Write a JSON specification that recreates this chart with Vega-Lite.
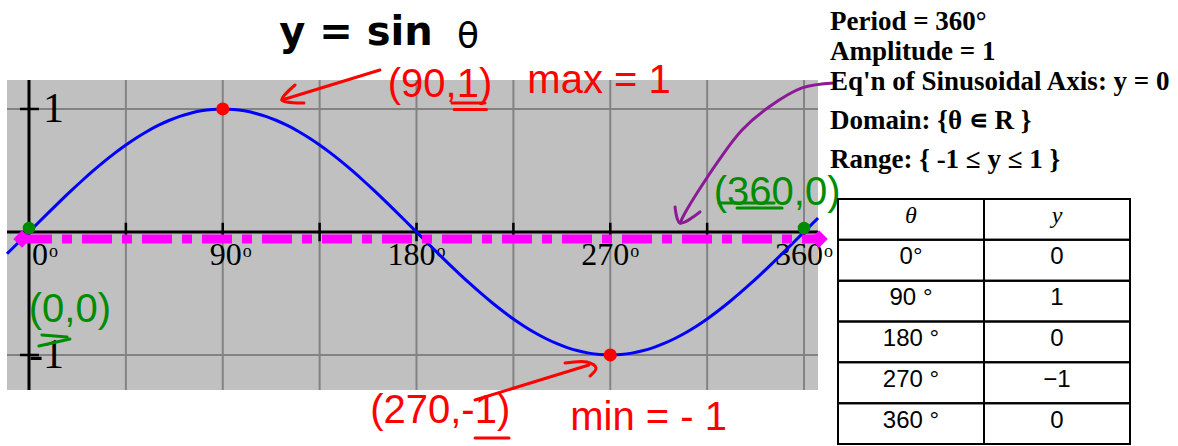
{
  "$schema": "https://vega.github.io/schema/vega-lite/v6.json",
  "padding": 0,
  "spacing": 0,
  "bounds": "flush",
  "background": "white",
  "config": {"view": {"stroke": null}},
  "datasets": {
    "curve": [
      {"deg": -10.22, "v": -0.1774}, {"deg": -5, "v": -0.0872}, {"deg": 0, "v": 0}, {"deg": 5, "v": 0.0872},
      {"deg": 10, "v": 0.1736}, {"deg": 15, "v": 0.2588}, {"deg": 20, "v": 0.342}, {"deg": 25, "v": 0.4226},
      {"deg": 30, "v": 0.5}, {"deg": 35, "v": 0.5736}, {"deg": 40, "v": 0.6428}, {"deg": 45, "v": 0.7071},
      {"deg": 50, "v": 0.766}, {"deg": 55, "v": 0.8192}, {"deg": 60, "v": 0.866}, {"deg": 65, "v": 0.9063},
      {"deg": 70, "v": 0.9397}, {"deg": 75, "v": 0.9659}, {"deg": 80, "v": 0.9848}, {"deg": 85, "v": 0.9962},
      {"deg": 90, "v": 1}, {"deg": 95, "v": 0.9962}, {"deg": 100, "v": 0.9848}, {"deg": 105, "v": 0.9659},
      {"deg": 110, "v": 0.9397}, {"deg": 115, "v": 0.9063}, {"deg": 120, "v": 0.866}, {"deg": 125, "v": 0.8192},
      {"deg": 130, "v": 0.766}, {"deg": 135, "v": 0.7071}, {"deg": 140, "v": 0.6428}, {"deg": 145, "v": 0.5736},
      {"deg": 150, "v": 0.5}, {"deg": 155, "v": 0.4226}, {"deg": 160, "v": 0.342}, {"deg": 165, "v": 0.2588},
      {"deg": 170, "v": 0.1736}, {"deg": 175, "v": 0.0872}, {"deg": 180, "v": 0}, {"deg": 185, "v": -0.0872},
      {"deg": 190, "v": -0.1736}, {"deg": 195, "v": -0.2588}, {"deg": 200, "v": -0.342}, {"deg": 205, "v": -0.4226},
      {"deg": 210, "v": -0.5}, {"deg": 215, "v": -0.5736}, {"deg": 220, "v": -0.6428}, {"deg": 225, "v": -0.7071},
      {"deg": 230, "v": -0.766}, {"deg": 235, "v": -0.8192}, {"deg": 240, "v": -0.866}, {"deg": 245, "v": -0.9063},
      {"deg": 250, "v": -0.9397}, {"deg": 255, "v": -0.9659}, {"deg": 260, "v": -0.9848}, {"deg": 265, "v": -0.9962},
      {"deg": 270, "v": -1}, {"deg": 275, "v": -0.9962}, {"deg": 280, "v": -0.9848}, {"deg": 285, "v": -0.9659},
      {"deg": 290, "v": -0.9397}, {"deg": 295, "v": -0.9063}, {"deg": 300, "v": -0.866}, {"deg": 305, "v": -0.8192},
      {"deg": 310, "v": -0.766}, {"deg": 315, "v": -0.7071}, {"deg": 320, "v": -0.6428}, {"deg": 325, "v": -0.5736},
      {"deg": 330, "v": -0.5}, {"deg": 335, "v": -0.4226}, {"deg": 340, "v": -0.342}, {"deg": 345, "v": -0.2588},
      {"deg": 350, "v": -0.1736}, {"deg": 355, "v": -0.0872}, {"deg": 360, "v": 0}, {"deg": 365, "v": 0.0872},
      {"deg": 366.5, "v": 0.1132}
    ],
    "gridx": [{"deg": 45}, {"deg": 90}, {"deg": 135}, {"deg": 180}, {"deg": 225}, {"deg": 270}, {"deg": 315}, {"deg": 360}],
    "gridy": [{"v": 1}, {"v": -1}],
    "xlabels": [{"deg": 0, "lab": "0"}, {"deg": 90, "lab": "90"}, {"deg": 180, "lab": "180"}, {"deg": 270, "lab": "270"}, {"deg": 360, "lab": "360"}],
    "ylabels": [{"v": 1, "lab": "1"}, {"v": -1, "lab": "-1"}],
    "extrema": [{"deg": 90, "v": 1}, {"deg": 270, "v": -1}],
    "zeros": [{"deg": 0, "v": 0}, {"deg": 360, "v": 0}],
    "axisends": [{"deg": -3.25}, {"deg": 367}],
    "strokes": [
      {"path": "a1", "seq": 1, "deg": 163.0, "v": 1.317, "ink": "red"},
      {"path": "a1", "seq": 2, "deg": 117.5, "v": 1.073, "ink": "red"},
      {"path": "a1h", "seq": 1, "deg": 123.6, "v": 1.195, "ink": "red"},
      {"path": "a1h", "seq": 2, "deg": 117.5, "v": 1.073, "ink": "red"},
      {"path": "a1h", "seq": 3, "deg": 127.7, "v": 1.049, "ink": "red"},
      {"path": "u1", "seq": 1, "deg": 196.5, "v": 1.049, "ink": "red"},
      {"path": "u1", "seq": 2, "deg": 211.8, "v": 1.049, "ink": "red"},
      {"path": "u1b", "seq": 1, "deg": 197.5, "v": 0.995, "ink": "red"},
      {"path": "u1b", "seq": 2, "deg": 212.5, "v": 0.995, "ink": "red"},
      {"path": "a2", "seq": 1, "deg": 207.2, "v": -1.366, "ink": "red"},
      {"path": "a2", "seq": 2, "deg": 260.1, "v": -1.081, "ink": "red"},
      {"path": "a2h", "seq": 1, "deg": 249.0, "v": -1.065, "ink": "red"},
      {"path": "a2h", "seq": 2, "deg": 259.2, "v": -1.057, "ink": "red"},
      {"path": "a2h", "seq": 3, "deg": 263.4, "v": -1.106, "ink": "red"},
      {"path": "a2h", "seq": 4, "deg": 260.6, "v": -1.171, "ink": "red"},
      {"path": "u2", "seq": 1, "deg": 207.2, "v": -1.675, "ink": "red"},
      {"path": "u2", "seq": 2, "deg": 223.0, "v": -1.675, "ink": "red"},
      {"path": "u3", "seq": 1, "deg": 320.5, "v": 0.236, "ink": "green"},
      {"path": "u3", "seq": 2, "deg": 346.1, "v": 0.236, "ink": "green"},
      {"path": "u3b", "seq": 1, "deg": 328.9, "v": 0.195, "ink": "green"},
      {"path": "u3b", "seq": 2, "deg": 349.8, "v": 0.195, "ink": "green"},
      {"path": "u4", "seq": 1, "deg": 6.0, "v": -0.837, "ink": "green"},
      {"path": "u4", "seq": 2, "deg": 17.7, "v": -0.854, "ink": "green"},
      {"path": "u4b", "seq": 1, "deg": 4.6, "v": -0.927, "ink": "green"},
      {"path": "u4b", "seq": 2, "deg": 19.0, "v": -0.87, "ink": "green"},
      {"path": "p1", "seq": 1, "deg": 373.9, "v": 1.211, "ink": "purple"},
      {"path": "p1", "seq": 2, "deg": 359.1, "v": 1.171, "ink": "purple"},
      {"path": "p1", "seq": 3, "deg": 343.7, "v": 1.016, "ink": "purple"},
      {"path": "p1", "seq": 4, "deg": 331.2, "v": 0.829, "ink": "purple"},
      {"path": "p1", "seq": 5, "deg": 320.5, "v": 0.585, "ink": "purple"},
      {"path": "p1", "seq": 6, "deg": 311.2, "v": 0.341, "ink": "purple"},
      {"path": "p1", "seq": 7, "deg": 304.7, "v": 0.154, "ink": "purple"},
      {"path": "p1", "seq": 8, "deg": 302.4, "v": 0.073, "ink": "purple"},
      {"path": "p1h", "seq": 1, "deg": 300.1, "v": 0.203, "ink": "purple"},
      {"path": "p1h", "seq": 2, "deg": 302.4, "v": 0.073, "ink": "purple"},
      {"path": "p1h", "seq": 3, "deg": 311.7, "v": 0.163, "ink": "purple"}
    ],
    "notes": [
      {"deg": 190.9, "v": 1.1, "txt": "(90,1)", "ink": "red"},
      {"deg": 264.8, "v": 1.13, "txt": "max = 1", "ink": "red"},
      {"deg": 191.0, "v": -1.553, "txt": "(270,-1)", "ink": "red"},
      {"deg": 287.8, "v": -1.61, "txt": "min = - 1", "ink": "red"},
      {"deg": 19.0, "v": -0.732, "txt": "(0,0)", "ink": "green"},
      {"deg": 347.5, "v": 0.22, "txt": "(360,0)", "ink": "green"}
    ],
    "info": [
      {"line": 1, "txt": "Period = 360°"},
      {"line": 2, "txt": "Amplitude = 1"},
      {"line": 3, "txt": "Eq'n of Sinusoidal Axis: y = 0"},
      {"line": 4, "txt": "Domain:  {θ ∊ R }"},
      {"line": 5, "txt": "Range:  { -1 ≤ y ≤ 1 }"}
    ],
    "table": [
      {"row": 0, "col": "c1", "txt": "θ"}, {"row": 0, "col": "c2", "txt": "y"},
      {"row": 1, "col": "c1", "txt": "0°"}, {"row": 1, "col": "c2", "txt": "0"},
      {"row": 2, "col": "c1", "txt": "90 °"}, {"row": 2, "col": "c2", "txt": "1"},
      {"row": 3, "col": "c1", "txt": "180 °"}, {"row": 3, "col": "c2", "txt": "0"},
      {"row": 4, "col": "c1", "txt": "270 °"}, {"row": 4, "col": "c2", "txt": "−1"},
      {"row": 5, "col": "c1", "txt": "360 °"}, {"row": 5, "col": "c2", "txt": "0"}
    ]
  },
  "hconcat": [
    {
      "width": 828,
      "height": 446,
      "layer": [
        {
          "data": {"values": [{"t0": -10.22, "t1": 366.5, "b": -1.285, "t": 1.236}]},
          "mark": {"type": "rect", "color": "#c0c0c0"},
          "encoding": {
            "x": {"field": "t0", "type": "quantitative", "scale": {"domain": [-12.54, 372.07], "nice": false, "zero": false}, "axis": null},
            "x2": {"field": "t1"},
            "y": {"field": "b", "type": "quantitative", "scale": {"domain": [-1.74, 1.886], "nice": false, "zero": false}, "axis": null},
            "y2": {"field": "t"}
          }
        },
        {
          "data": {"name": "gridx"},
          "mark": {"type": "rule", "color": "#838383", "strokeWidth": 2},
          "encoding": {
            "x": {"field": "deg", "type": "quantitative", "scale": {"domain": [-12.54, 372.07], "nice": false, "zero": false}, "axis": null},
            "y": {"datum": -1.285, "type": "quantitative", "scale": {"domain": [-1.74, 1.886], "nice": false, "zero": false}, "axis": null},
            "y2": {"datum": 1.236}
          }
        },
        {
          "data": {"name": "gridy"},
          "mark": {"type": "rule", "color": "#838383", "strokeWidth": 2},
          "encoding": {
            "y": {"field": "v", "type": "quantitative", "scale": {"domain": [-1.74, 1.886], "nice": false, "zero": false}, "axis": null},
            "x": {"datum": -10.22, "type": "quantitative", "scale": {"domain": [-12.54, 372.07], "nice": false, "zero": false}, "axis": null},
            "x2": {"datum": 366.5}
          }
        },
        {
          "data": {"values": [{}]},
          "mark": {"type": "rule", "color": "black", "strokeWidth": 3},
          "encoding": {
            "y": {"datum": 0, "type": "quantitative", "scale": {"domain": [-1.74, 1.886], "nice": false, "zero": false}, "axis": null},
            "x": {"datum": -10.22, "type": "quantitative", "scale": {"domain": [-12.54, 372.07], "nice": false, "zero": false}, "axis": null},
            "x2": {"datum": 366.5}
          }
        },
        {
          "data": {"values": [{}]},
          "mark": {"type": "rule", "color": "black", "strokeWidth": 3},
          "encoding": {
            "x": {"datum": 0, "type": "quantitative", "scale": {"domain": [-12.54, 372.07], "nice": false, "zero": false}, "axis": null},
            "y": {"datum": -1.285, "type": "quantitative", "scale": {"domain": [-1.74, 1.886], "nice": false, "zero": false}, "axis": null},
            "y2": {"datum": 1.236}
          }
        },
        {
          "data": {"name": "gridx"},
          "mark": {"type": "rule", "color": "black", "strokeWidth": 2.5},
          "encoding": {
            "x": {"field": "deg", "type": "quantitative", "scale": {"domain": [-12.54, 372.07], "nice": false, "zero": false}, "axis": null},
            "y": {"datum": -0.075, "type": "quantitative", "scale": {"domain": [-1.74, 1.886], "nice": false, "zero": false}, "axis": null},
            "y2": {"datum": 0.075}
          }
        },
        {
          "data": {"name": "gridy"},
          "mark": {"type": "rule", "color": "black", "strokeWidth": 2.5},
          "encoding": {
            "y": {"field": "v", "type": "quantitative", "scale": {"domain": [-1.74, 1.886], "nice": false, "zero": false}, "axis": null},
            "x": {"datum": -4.2, "type": "quantitative", "scale": {"domain": [-12.54, 372.07], "nice": false, "zero": false}, "axis": null},
            "x2": {"datum": 4.6}
          }
        },
        {
          "data": {"name": "xlabels"},
          "mark": {"type": "text", "font": "Liberation Serif", "fontSize": 32, "align": "right", "baseline": "alphabetic", "dx": 19, "dy": 33, "color": "black"},
          "encoding": {
            "x": {"field": "deg", "type": "quantitative", "scale": {"domain": [-12.54, 372.07], "nice": false, "zero": false}, "axis": null},
            "y": {"datum": 0, "type": "quantitative", "scale": {"domain": [-1.74, 1.886], "nice": false, "zero": false}, "axis": null},
            "text": {"field": "lab"}
          }
        },
        {
          "data": {"name": "xlabels"},
          "mark": {"type": "text", "text": "o", "font": "Liberation Serif", "fontSize": 18, "align": "left", "baseline": "alphabetic", "dx": 20, "dy": 25, "color": "black"},
          "encoding": {
            "x": {"field": "deg", "type": "quantitative", "scale": {"domain": [-12.54, 372.07], "nice": false, "zero": false}, "axis": null},
            "y": {"datum": 0, "type": "quantitative", "scale": {"domain": [-1.74, 1.886], "nice": false, "zero": false}, "axis": null}
          }
        },
        {
          "data": {"name": "ylabels"},
          "mark": {"type": "text", "font": "Liberation Serif", "fontSize": 42, "align": "right", "baseline": "middle", "dx": 35, "color": "black"},
          "encoding": {
            "x": {"datum": 0, "type": "quantitative", "scale": {"domain": [-12.54, 372.07], "nice": false, "zero": false}, "axis": null},
            "y": {"field": "v", "type": "quantitative", "scale": {"domain": [-1.74, 1.886], "nice": false, "zero": false}, "axis": null},
            "text": {"field": "lab"}
          }
        },
        {
          "data": {"name": "curve"},
          "mark": {"type": "line", "color": "#0000ff", "strokeWidth": 3, "interpolate": "monotone"},
          "encoding": {
            "x": {"field": "deg", "type": "quantitative", "scale": {"domain": [-12.54, 372.07], "nice": false, "zero": false}, "axis": null},
            "y": {"field": "v", "type": "quantitative", "scale": {"domain": [-1.74, 1.886], "nice": false, "zero": false}, "axis": null}
          }
        },
        {
          "data": {"values": [{}]},
          "mark": {"type": "rule", "color": "#ff00ff", "strokeWidth": 9, "strokeDash": [30, 10, 10, 10], "yOffset": 7},
          "encoding": {
            "y": {"datum": 0, "type": "quantitative", "scale": {"domain": [-1.74, 1.886], "nice": false, "zero": false}, "axis": null},
            "x": {"datum": -3.25, "type": "quantitative", "scale": {"domain": [-12.54, 372.07], "nice": false, "zero": false}, "axis": null},
            "x2": {"datum": 367}
          }
        },
        {
          "data": {"name": "axisends"},
          "mark": {"type": "point", "shape": "diamond", "filled": true, "size": 300, "color": "#ff00ff", "opacity": 1, "yOffset": 7},
          "encoding": {
            "x": {"field": "deg", "type": "quantitative", "scale": {"domain": [-12.54, 372.07], "nice": false, "zero": false}, "axis": null},
            "y": {"datum": 0, "type": "quantitative", "scale": {"domain": [-1.74, 1.886], "nice": false, "zero": false}, "axis": null}
          }
        },
        {
          "data": {"name": "extrema"},
          "mark": {"type": "point", "shape": "circle", "filled": true, "size": 170, "color": "#ff0000", "opacity": 1},
          "encoding": {
            "x": {"field": "deg", "type": "quantitative", "scale": {"domain": [-12.54, 372.07], "nice": false, "zero": false}, "axis": null},
            "y": {"field": "v", "type": "quantitative", "scale": {"domain": [-1.74, 1.886], "nice": false, "zero": false}, "axis": null}
          }
        },
        {
          "data": {"name": "zeros"},
          "mark": {"type": "point", "shape": "circle", "filled": true, "size": 160, "color": "#008c00", "opacity": 1, "yOffset": -4},
          "encoding": {
            "x": {"field": "deg", "type": "quantitative", "scale": {"domain": [-12.54, 372.07], "nice": false, "zero": false}, "axis": null},
            "y": {"field": "v", "type": "quantitative", "scale": {"domain": [-1.74, 1.886], "nice": false, "zero": false}, "axis": null}
          }
        },
        {
          "data": {"name": "strokes"},
          "mark": {"type": "line", "strokeCap": "round", "strokeJoin": "round", "interpolate": "catmull-rom"},
          "encoding": {
            "x": {"field": "deg", "type": "quantitative", "scale": {"domain": [-12.54, 372.07], "nice": false, "zero": false}, "axis": null},
            "y": {"field": "v", "type": "quantitative", "scale": {"domain": [-1.74, 1.886], "nice": false, "zero": false}, "axis": null},
            "detail": {"field": "path"},
            "order": {"field": "seq"},
            "color": {"field": "ink", "type": "nominal", "scale": {"domain": ["red", "green", "purple"], "range": ["#ff0000", "#008c00", "#8b1a96"]}, "legend": null},
            "strokeWidth": {"field": "ink", "type": "nominal", "scale": {"domain": ["red", "green", "purple"], "range": [3, 3, 5]}, "legend": null}
          }
        },
        {
          "data": {"name": "notes"},
          "mark": {"type": "text", "font": "Liberation Sans", "fontSize": 40, "align": "center", "baseline": "alphabetic"},
          "encoding": {
            "x": {"field": "deg", "type": "quantitative", "scale": {"domain": [-12.54, 372.07], "nice": false, "zero": false}, "axis": null},
            "y": {"field": "v", "type": "quantitative", "scale": {"domain": [-1.74, 1.886], "nice": false, "zero": false}, "axis": null},
            "text": {"field": "txt"},
            "color": {"field": "ink", "type": "nominal", "scale": {"domain": ["red", "green", "purple"], "range": ["#ff0000", "#008c00", "#8b1a96"]}, "legend": null}
          }
        },
        {
          "data": {"values": [{"deg": 151.9, "v": 1.52, "txt": "y = sin"}]},
          "mark": {"type": "text", "font": "DejaVu Sans", "fontWeight": "bold", "fontSize": 40, "align": "center", "baseline": "alphabetic", "color": "black"},
          "encoding": {
            "x": {"field": "deg", "type": "quantitative", "scale": {"domain": [-12.54, 372.07], "nice": false, "zero": false}, "axis": null},
            "y": {"field": "v", "type": "quantitative", "scale": {"domain": [-1.74, 1.886], "nice": false, "zero": false}, "axis": null},
            "text": {"field": "txt"}
          }
        },
        {
          "data": {"values": [{"deg": 203.9, "v": 1.496, "txt": "θ"}]},
          "mark": {"type": "text", "font": "DejaVu Sans", "fontSize": 36, "align": "center", "baseline": "alphabetic", "color": "black"},
          "encoding": {
            "x": {"field": "deg", "type": "quantitative", "scale": {"domain": [-12.54, 372.07], "nice": false, "zero": false}, "axis": null},
            "y": {"field": "v", "type": "quantitative", "scale": {"domain": [-1.74, 1.886], "nice": false, "zero": false}, "axis": null},
            "text": {"field": "txt"}
          }
        }
      ]
    },
    {
      "width": 350,
      "height": 446,
      "layer": [
        {
          "data": {"name": "info"},
          "mark": {"type": "text", "font": "Liberation Serif", "fontWeight": "bold", "fontSize": 27, "align": "left", "baseline": "alphabetic", "color": "black"},
          "encoding": {
            "x": {"datum": 0, "type": "quantitative", "scale": {"domain": [0, 350], "range": [0, 350], "nice": false, "zero": false}, "axis": null},
            "y": {"field": "line", "type": "quantitative", "scale": {"domain": [1, 3, 5], "range": [30, 90, 168], "nice": false, "zero": false}, "axis": null},
            "text": {"field": "txt"}
          }
        },
        {
          "data": {"name": "table"},
          "encoding": {
            "x": {"field": "col", "type": "nominal", "scale": {"type": "band", "range": [8, 300], "paddingInner": 0, "paddingOuter": 0}, "axis": null},
            "y": {"field": "row", "type": "ordinal", "scale": {"type": "band", "range": [199, 444], "paddingInner": 0, "paddingOuter": 0}, "axis": null}
          },
          "layer": [
            {"mark": {"type": "rect", "fillOpacity": 0, "stroke": "black", "strokeWidth": 2}},
            {
              "transform": [{"filter": "datum.row == 0"}],
              "mark": {"type": "text", "font": "Liberation Serif", "fontStyle": "italic", "fontSize": 24, "baseline": "middle", "dy": -3, "color": "black"},
              "encoding": {"text": {"field": "txt"}}
            },
            {
              "transform": [{"filter": "datum.row > 0"}],
              "mark": {"type": "text", "font": "Liberation Sans Narrow, Liberation Sans", "fontSize": 24, "baseline": "middle", "dy": -3, "color": "black"},
              "encoding": {"text": {"field": "txt"}}
            }
          ]
        }
      ],
      "resolve": {"scale": {"x": "independent", "y": "independent"}}
    }
  ]
}
